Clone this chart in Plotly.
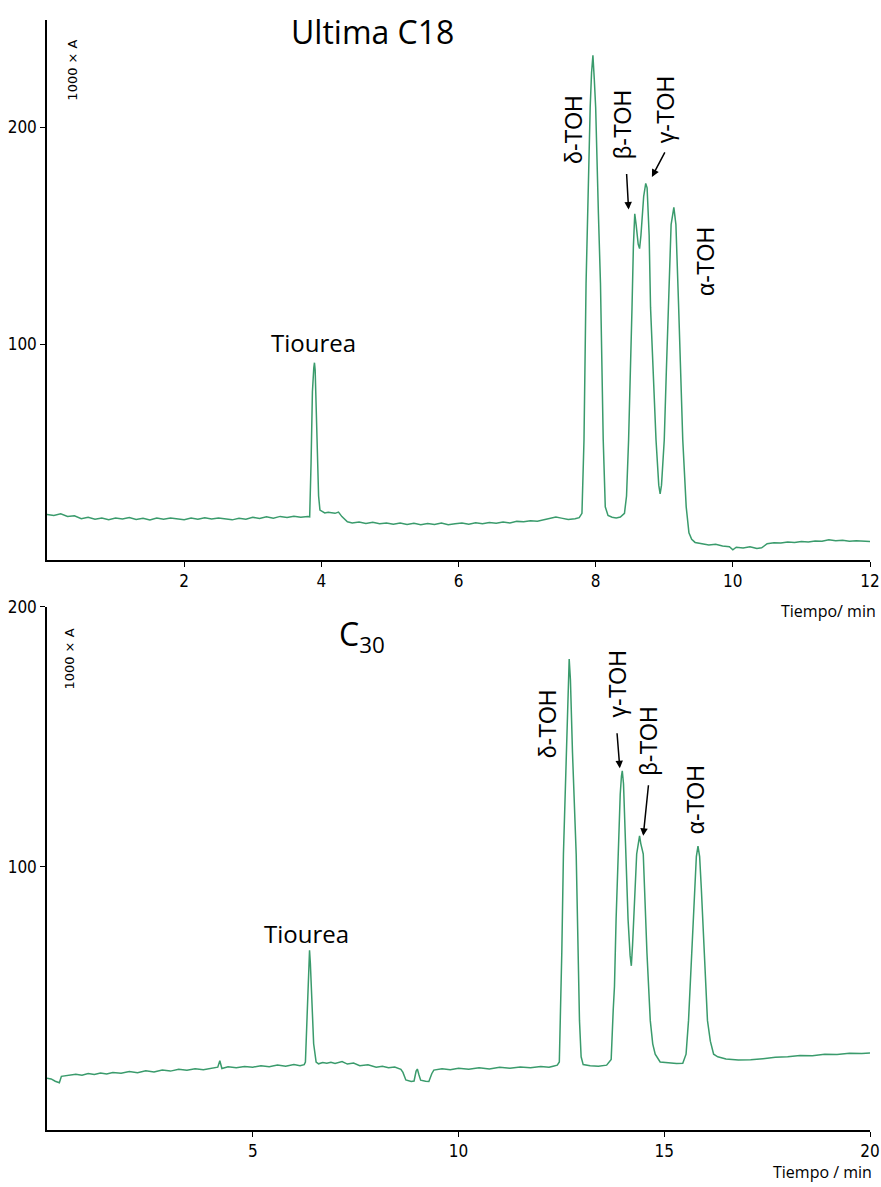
import plotly.graph_objects as go
from plotly.subplots import make_subplots

# ---------------- Data ----------------
# Upper chromatogram: Ultima C18 (time in min, signal 1000 x A)
c18_time = [0.00, 0.10, 0.20, 0.30, 0.40, 0.50, 0.60, 0.70, 0.80, 0.90,
            1.00, 1.10, 1.20, 1.30, 1.40, 1.50, 1.60, 1.70, 1.80, 1.90,
            2.00, 2.10, 2.20, 2.30, 2.40, 2.50, 2.60, 2.70, 2.80, 2.90,
            3.00, 3.10, 3.20, 3.30, 3.40, 3.50, 3.60, 3.70, 3.80, 3.83,
            3.85, 3.87, 3.89, 3.90, 3.91, 3.92, 3.94, 3.96, 3.98, 4.05,
            4.10, 4.20, 4.25, 4.30, 4.38, 4.45, 4.55, 4.65, 4.75, 4.85,
            4.95, 5.05, 5.15, 5.25, 5.35, 5.45, 5.55, 5.65, 5.75, 5.85,
            5.95, 6.05, 6.15, 6.25, 6.35, 6.45, 6.55, 6.65, 6.75, 6.85,
            6.95, 7.05, 7.15, 7.25, 7.35, 7.42, 7.50, 7.60, 7.70, 7.76,
            7.80, 7.83, 7.86, 7.90, 7.92, 7.94, 7.96, 7.98, 8.00, 8.04,
            8.07, 8.11, 8.14, 8.18, 8.24, 8.30, 8.36, 8.42, 8.45, 8.48,
            8.51, 8.53, 8.55, 8.57, 8.59, 8.62, 8.64, 8.66, 8.70, 8.73,
            8.75, 8.78, 8.80, 8.84, 8.88, 8.92, 8.94, 8.96, 9.00, 9.03,
            9.06, 9.10, 9.14, 9.17, 9.21, 9.25, 9.27, 9.32, 9.36, 9.40,
            9.45, 9.55, 9.65, 9.75, 9.85, 9.95, 10.00, 10.05, 10.15, 10.25,
            10.35, 10.42, 10.50, 10.60, 10.70, 10.80, 10.90, 11.00, 11.10, 11.20,
            11.30, 11.40, 11.50, 11.60, 11.70, 11.80, 11.90, 12.00]
c18_signal = [21.5, 21.0, 21.8, 20.6, 20.9, 19.5, 20.2, 19.3, 19.9, 19.1,
              19.8, 19.4, 20.1, 19.2, 19.7, 19.0, 19.9, 19.3, 19.8, 19.5,
              19.1, 19.8, 19.3, 20.0, 19.4, 19.9, 19.5, 19.0, 19.7, 19.3,
              20.2, 19.6, 20.4, 19.8, 20.6, 20.1, 20.7, 20.2, 20.5, 20.4,
              45.0, 78.0, 89.0, 91.4, 88.0, 78.0, 50.0, 30.0, 23.5, 22.2,
              22.5, 22.0, 22.6, 20.5, 18.1, 17.6, 18.0, 17.3, 17.9, 17.2,
              17.6, 17.0, 17.5, 16.9, 17.4, 16.8, 17.3, 16.9, 17.5, 16.8,
              17.2, 17.6, 17.0, 17.7, 17.2, 17.8, 17.4, 18.0, 17.6, 18.3,
              18.1, 18.6, 18.4, 19.0, 19.6, 20.3, 19.8, 19.2, 19.5, 20.0,
              22.0, 56.0, 128.0, 190.0, 209.0, 225.0, 233.0, 222.0, 209.0, 160.0,
              128.0, 56.0, 25.0, 21.0, 20.2, 19.9, 20.3, 22.0, 30.0, 55.8,
              87.0, 117.0, 145.0, 160.0, 155.0, 146.0, 144.0, 150.0, 168.0, 174.0,
              172.0, 150.0, 117.0, 87.0, 55.8, 35.0, 31.0, 35.0, 55.8, 87.0,
              117.0, 155.0, 163.0, 155.0, 117.0, 70.0, 55.8, 25.0, 13.0, 10.0,
              8.6, 8.0, 7.4, 7.8, 7.0, 6.6, 5.2, 6.4, 6.0, 6.6,
              5.8, 6.1, 8.0, 8.5, 8.3, 8.8, 8.6, 9.0, 8.8, 9.3,
              9.1, 9.8, 9.4, 9.6, 9.2, 9.4, 9.1, 9.0]

# Lower chromatogram: C30
c30_time = [0.00, 0.10, 0.20, 0.30, 0.35, 0.50, 0.70, 0.85, 1.00, 1.15,
            1.30, 1.45, 1.60, 1.80, 2.00, 2.20, 2.40, 2.60, 2.80, 3.00,
            3.20, 3.40, 3.60, 3.80, 4.00, 4.15, 4.20, 4.25, 4.40, 4.60,
            4.80, 5.00, 5.20, 5.40, 5.60, 5.80, 6.00, 6.15, 6.25, 6.28,
            6.31, 6.33, 6.36, 6.38, 6.40, 6.44, 6.48, 6.54, 6.60, 6.70,
            6.80, 6.90, 7.00, 7.17, 7.30, 7.45, 7.60, 7.80, 8.00, 8.15,
            8.30, 8.45, 8.60, 8.65, 8.72, 8.85, 8.92, 8.97, 9.00, 9.04,
            9.08, 9.20, 9.28, 9.35, 9.40, 9.60, 9.80, 10.00, 10.25, 10.50,
            10.75, 11.00, 11.25, 11.50, 11.75, 12.00, 12.20, 12.30, 12.40, 12.45,
            12.48, 12.51, 12.55, 12.62, 12.66, 12.69, 12.72, 12.77, 12.86, 12.91,
            12.94, 12.98, 13.03, 13.20, 13.40, 13.60, 13.71, 13.76, 13.79, 13.83,
            13.88, 13.93, 13.96, 13.98, 14.01, 14.07, 14.12, 14.17, 14.20, 14.23,
            14.27, 14.33, 14.37, 14.40, 14.43, 14.49, 14.58, 14.66, 14.72, 14.78,
            14.90, 15.10, 15.30, 15.45, 15.53, 15.59, 15.63, 15.67, 15.74, 15.78,
            15.82, 15.86, 15.90, 15.97, 16.05, 16.12, 16.20, 16.30, 16.50, 16.80,
            17.10, 17.40, 17.70, 18.00, 18.30, 18.60, 18.90, 19.20, 19.50, 19.80,
            20.00]
c30_signal = [18.8, 18.5, 17.6, 17.0, 19.5, 19.8, 20.3, 19.9, 20.6, 20.2,
              20.8, 20.4, 21.0, 20.7, 21.3, 20.9, 21.6, 21.2, 21.9, 21.5,
              22.2, 21.8, 22.4, 22.0, 22.7, 23.0, 25.5, 22.5, 23.2, 22.8,
              23.3, 23.0, 23.6, 23.2, 23.8, 23.4, 24.0, 23.6, 24.0, 25.0,
              38.0, 46.0, 62.0, 68.0, 63.0, 46.0, 32.0, 25.0, 24.3, 24.8,
              24.5, 24.9, 24.4, 25.2, 24.2, 24.6, 23.6, 23.9, 23.0, 23.4,
              22.8, 23.1, 22.2, 21.0, 18.1, 17.5, 17.7, 21.5, 22.3, 20.0,
              18.0, 17.6, 17.5, 20.5, 21.9, 22.4, 22.0, 22.6, 22.2, 22.8,
              22.3, 23.0, 22.6, 23.1, 22.8, 23.3, 23.0, 23.4, 23.8, 25.0,
              45.0, 67.0, 105.0, 144.0, 170.0, 180.0, 172.0, 144.0, 105.0, 67.0,
              41.0, 27.0, 24.0, 23.6, 23.4, 23.8, 26.0, 45.0, 54.0, 80.0,
              105.0, 128.0, 135.0, 137.0, 132.0, 105.0, 80.0, 66.0, 62.0, 70.0,
              86.0, 105.0, 109.0, 112.0, 109.0, 105.0, 66.8, 41.0, 32.0, 28.0,
              25.0, 24.6, 24.4, 24.5, 28.0, 41.0, 55.0, 66.8, 92.0, 104.0,
              108.0, 104.0, 92.0, 66.8, 41.0, 33.0, 28.0, 27.0, 26.2, 25.8,
              25.9, 26.3, 26.8, 27.0, 27.5, 27.4, 28.0, 27.9, 28.4, 28.3,
              28.5]

LINE_COLOR = "#3a9b6c"
TICK_FONT = dict(family="Liberation Sans Narrow, DejaVu Sans Condensed, sans-serif", size=17, color="black")

fig = make_subplots(rows=2, cols=1, vertical_spacing=0.0)

fig.add_trace(go.Scatter(x=c18_time, y=c18_signal, mode="lines",
                         line=dict(color=LINE_COLOR, width=1.5), showlegend=False),
              row=1, col=1)
fig.add_trace(go.Scatter(x=c30_time, y=c30_signal, mode="lines",
                         line=dict(color=LINE_COLOR, width=1.5), showlegend=False),
              row=2, col=1)

axis_common = dict(showline=True, linecolor="black", linewidth=1.5, ticks="outside",
                   ticklen=5, tickcolor="black", showgrid=False, zeroline=False,
                   tickfont=TICK_FONT, mirror=False, automargin=False)

fig.update_xaxes(axis_common)
fig.update_yaxes(axis_common)

fig.update_layout(
    xaxis=dict(domain=[0, 1], range=[0, 12], tickvals=[2, 4, 6, 8, 10, 12], anchor="y"),
    yaxis=dict(domain=[0.5135, 1.0], range=[0.5, 249.3], tickvals=[100, 200], anchor="x"),
    xaxis2=dict(domain=[0, 1], range=[0, 20], tickvals=[5, 10, 15, 20], anchor="y2"),
    yaxis2=dict(domain=[0.0, 0.4712], range=[-1.15, 200], tickvals=[100, 200], anchor="x2"),
    width=881, height=1187,
    margin=dict(l=47, r=11, t=20, b=57),
    paper_bgcolor="white", plot_bgcolor="white",
    showlegend=False,
)

LABEL_FONT = dict(family="Liberation Sans, Arial, sans-serif", size=23, color="black")
TITLE_FONT = dict(family="Open Sans, Lato, sans-serif", size=32, color="black")
TIOUREA_FONT = dict(family="Open Sans, sans-serif", size=24, color="black")
SMALL_FONT = dict(family="DejaVu Sans, sans-serif", size=13, color="black")
AXIS_TITLE_FONT = dict(family="Open Sans, sans-serif", size=16, color="black")

def ann(text, x, y, font, xref="x", yref="y", angle=0, **kw):
    fig.add_annotation(text=text, x=x, y=y, xref=xref, yref=yref, showarrow=False,
                       textangle=angle, font=font, xanchor="center", yanchor="middle", **kw)

def arrow(x, y, ax, ay, xref, yref):
    fig.add_annotation(x=x, y=y, ax=ax, ay=ay, xref=xref, yref=yref, axref=xref, ayref=yref,
                       showarrow=True, arrowhead=2, arrowsize=1, arrowwidth=1.5,
                       arrowcolor="black", text="")

# Upper panel texts
ann("Ultima C18", 4.75, 244, TITLE_FONT)
ann("Tiourea", 3.88, 100.5, TIOUREA_FONT)
ann("1000 × A", 0.38, 226, SMALL_FONT, angle=-90)
ann("δ-TOH", 7.68, 199, LABEL_FONT, angle=-90)
ann("β-TOH", 8.40, 201, LABEL_FONT, angle=-90)
ann("γ-TOH", 9.02, 208, LABEL_FONT, angle=-90)
ann("α-TOH", 9.60, 138, LABEL_FONT, angle=-90)
arrow(8.48, 162, 8.45, 179, "x", "y")
arrow(8.82, 177, 9.02, 189, "x", "y")
ann("Tiempo/ min", 0.949, 0.4676, AXIS_TITLE_FONT, xref="paper", yref="paper")

# Lower panel texts
ann("C<sub>30</sub>", 7.65, 189, TITLE_FONT, xref="x2", yref="y2")
ann("Tiourea", 6.3, 74.5, TIOUREA_FONT, xref="x2", yref="y2")
ann("1000 × A", 0.55, 180, SMALL_FONT, xref="x2", yref="y2", angle=-90)
ann("δ-TOH", 12.18, 155, LABEL_FONT, xref="x2", yref="y2", angle=-90)
ann("γ-TOH", 13.87, 170.5, LABEL_FONT, xref="x2", yref="y2", angle=-90)
ann("β-TOH", 14.62, 148.5, LABEL_FONT, xref="x2", yref="y2", angle=-90)
ann("α-TOH", 15.77, 126, LABEL_FONT, xref="x2", yref="y2", angle=-90)
arrow(13.92, 138, 13.85, 152, "x2", "y2")
arrow(14.49, 112, 14.62, 132, "x2", "y2")
ann("Tiempo / min", 0.942, -0.0378, AXIS_TITLE_FONT, xref="paper", yref="paper")

fig.write_html("out.html")
